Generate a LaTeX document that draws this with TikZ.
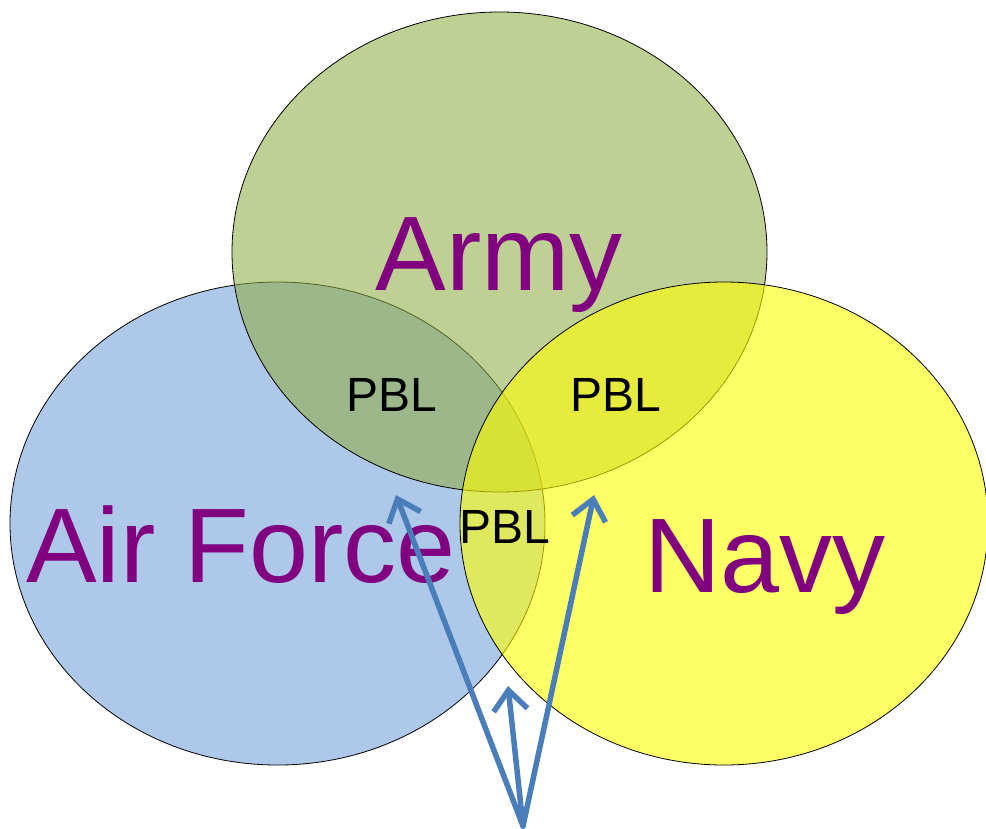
\documentclass[tikz,border=0pt]{standalone}
\usepackage{fontspec}
\setmainfont{Liberation Sans}
\usetikzlibrary{shapes.geometric,arrows.meta}
\definecolor{afblue}{RGB}{174,200,234}
\definecolor{armygreen}{RGB}{143,173,67}
\definecolor{navyyellow}{RGB}{255,255,0}
\definecolor{labelpurple}{RGB}{128,0,128}
\definecolor{arrowblue}{RGB}{74,126,187}
\tikzset{
  venn/.style={ellipse, draw=black, line width=0.8pt, inner sep=0pt, outer sep=0pt},
  biglabel/.style={text=labelpurple, font=\fontsize{106}{120}\selectfont, anchor=base, inner sep=0pt},
  pbl/.style={text=black, font=\fontsize{48}{54}\selectfont, inner sep=0pt},
  pointer/.style={draw=arrowblue, line width=5.5pt, line cap=round,
    -{Straight Barb[length=20pt,width=34pt,line width=5.5pt]}}
}
\begin{document}
\begin{tikzpicture}[x=1pt,y=-1pt]
\useasboundingbox (0,0) rectangle (986,828);
\node[venn, fill=afblue, minimum width=535pt, minimum height=483pt] (af) at (277.5,523.5) {};
\node[venn, fill=armygreen, fill opacity=0.57, minimum width=535pt, minimum height=480pt] (army) at (499.5,252) {};
\node[venn, fill=navyyellow, fill opacity=0.6, minimum width=528pt, minimum height=483pt] (navy) at (724,523.5) {};
\node[biglabel] (armyl) at (499,290) {Army};
\node[biglabel] (afl) at (241,582) {Air Force};
\node[biglabel] (navyl) at (765,592) {Navy};
\node[pbl] (p1) at (392,395) {PBL};
\node[pbl] (p2) at (616,395) {PBL};
\node[pbl] (p3) at (505,527) {PBL};
\coordinate (src) at (523,826);
\coordinate (t1) at (396,495);
\coordinate (t2) at (508,686);
\coordinate (t3) at (594,495);
\draw[pointer] (src) -- (t1);
\draw[pointer] (src) -- (t2);
\draw[pointer] (src) -- (t3);
\end{tikzpicture}
\end{document}
